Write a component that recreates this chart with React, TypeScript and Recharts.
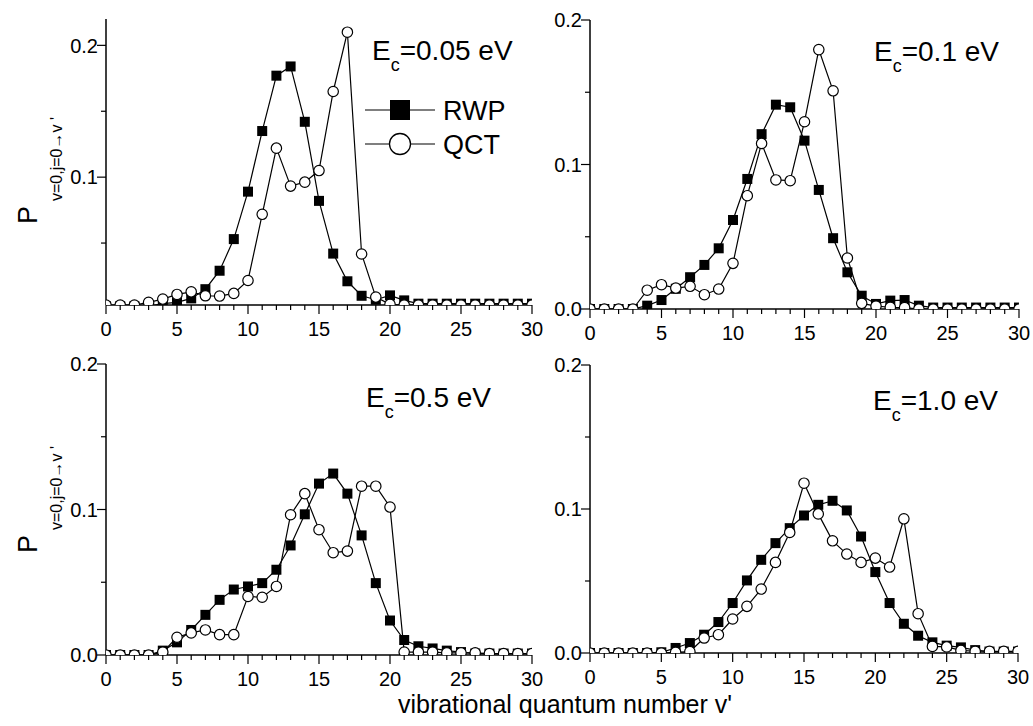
// Vibrational state distributions P(v=0,j=0 -> v') for four collision energies, RWP vs QCT

import { LineChart, Line, XAxis, YAxis, Legend } from "recharts";

const FONT = "'Liberation Sans', Arial, Helvetica, sans-serif";

// vibrational quantum number v'
const vLevels = [0, 1, 2, 3, 4, 5, 6, 7, 8, 9, 10, 11, 12, 13, 14, 15, 16, 17, 18, 19, 20, 21, 22, 23, 24, 25, 26, 27, 28, 29, 30];
const vTicks = [0, 1, 2, 3, 4, 5, 6, 7, 8, 9, 10, 11, 12, 13, 14, 15, 16, 17, 18, 19, 20, 21, 22, 23, 24, 25, 26, 27, 28, 29, 30];
const yTicksFull = [0, 0.05, 0.1, 0.15, 0.2];
const yTicksTopLeft = [0.05, 0.1, 0.15, 0.2];

// Ec = 0.05 eV
const rwp005 = [0.002, 0.002, 0.002, 0.002, 0.004, 0.005, 0.008, 0.015, 0.029, 0.053, 0.089, 0.135, 0.177, 0.184, 0.142, 0.082, 0.042, 0.021, 0.01, 0.007, 0.0103, 0.0065, 0.004, 0.004, 0.004, 0.004, 0.004, 0.004, 0.004, 0.004, 0.004];
const qct005 = [0.003, 0.003, 0.003, 0.005, 0.0075, 0.011, 0.013, 0.01, 0.0098, 0.0118, 0.0216, 0.0718, 0.122, 0.0932, 0.0962, 0.105, 0.165, 0.21, 0.0417, 0.009, 0.0035, 0.003, 0.003, 0.003, 0.003, 0.003, 0.003, 0.003, 0.003, 0.003, 0.003];

// Ec = 0.1 eV
const rwp01 = [0, 0, 0, 0, 0.0023, 0.0062, 0.014, 0.022, 0.0305, 0.042, 0.0616, 0.09, 0.121, 0.1414, 0.1396, 0.1165, 0.0824, 0.049, 0.0254, 0.0092, 0.0035, 0.0058, 0.0062, 0.0023, 0.001, 0.001, 0.001, 0.001, 0.001, 0.001, 0.001];
const qct01 = [0, 0, 0, 0, 0.013, 0.0168, 0.0145, 0.0157, 0.0099, 0.0138, 0.0316, 0.0784, 0.1146, 0.0893, 0.0888, 0.1296, 0.1795, 0.151, 0.0353, 0.0039, 0.002, 0.0012, 0.001, 0, 0, 0, 0, 0, 0, 0, 0];

// Ec = 0.5 eV
const rwp05 = [0, 0, 0, 0, 0.003, 0.0087, 0.0172, 0.0276, 0.0379, 0.045, 0.0471, 0.0494, 0.0586, 0.0753, 0.0967, 0.1178, 0.1247, 0.1109, 0.0822, 0.0494, 0.0237, 0.0103, 0.006, 0.0045, 0.003, 0.002, 0.001, 0.001, 0.001, 0.001, 0.001];
const qct05 = [0, 0, 0, 0, 0.002, 0.0122, 0.0152, 0.0172, 0.014, 0.014, 0.0402, 0.0397, 0.0471, 0.0964, 0.1109, 0.0861, 0.0703, 0.0714, 0.116, 0.116, 0.1017, 0.002, 0.002, 0.002, 0.0015, 0.0015, 0.0015, 0.001, 0.001, 0.001, 0.001];

// Ec = 1.0 eV
const rwp10 = [0, 0, 0, 0, 0, 0.0005, 0.0035, 0.0069, 0.0127, 0.0215, 0.0347, 0.0504, 0.0647, 0.0763, 0.0867, 0.0955, 0.1029, 0.1057, 0.099, 0.0809, 0.0562, 0.0347, 0.0203, 0.012, 0.0074, 0.0051, 0.0039, 0.002, 0.001, 0.001, 0.001];
const qct10 = [0, 0, 0, 0, 0, 0, 0.0005, 0.001, 0.0104, 0.0127, 0.0236, 0.0324, 0.0444, 0.0629, 0.0837, 0.1179, 0.0966, 0.0779, 0.0687, 0.0629, 0.0659, 0.0597, 0.0932, 0.0273, 0.0046, 0.0042, 0.0018, 0.0012, 0.0012, 0.0012, 0.0012];

const Y_AXIS_W = 60;
const X_AXIS_H = 40;
const M_TOP = 15;
const M_RIGHT = 15;

const frameLine = { stroke: "#000", strokeWidth: 1.5 };

const isMajorV = (v: number) => v % 5 === 0;
const isMajorP = (p: number) => Math.abs(p * 10 - Math.round(p * 10)) < 1e-6;

// ticks are drawn by hand so majors and minors get different lengths
const BottomTick = (props: any) => {
  const { x, y, payload } = props;
  const major = isMajorV(payload.value);
  return (
    <g>
      <line x1={x} y1={y} x2={x} y2={y + (major ? 9 : 5)} stroke="#000" strokeWidth={1.2} />
      {major && (
        <text x={x} y={y + 31} textAnchor="middle" fontSize={20} fontFamily={FONT} fill="#000">
          {payload.value}
        </text>
      )}
    </g>
  );
};

const TopTick = (props: any) => {
  const { x, y, payload } = props;
  const major = isMajorV(payload.value);
  return <line x1={x} y1={y} x2={x} y2={y + (major ? 6 : 4)} stroke="#000" strokeWidth={1.2} />;
};

const LeftTick = (props: any) => {
  const { x, y, payload } = props;
  const major = isMajorP(payload.value);
  return (
    <g>
      <line x1={x} y1={y} x2={x - (major ? 9 : 5)} y2={y} stroke="#000" strokeWidth={1.2} />
      {major && (
        <text x={x - 8} y={y} dy="0.36em" textAnchor="end" fontSize={20} fontFamily={FONT} fill="#000">
          {Number(payload.value).toFixed(1)}
        </text>
      )}
    </g>
  );
};

const RightTick = (props: any) => {
  const { x, y, payload } = props;
  const major = isMajorP(payload.value);
  return <line x1={x} y1={y} x2={x - (major ? 6 : 4)} y2={y} stroke="#000" strokeWidth={1.2} />;
};

const SquareDot = (props: any) => {
  const { cx, cy, index } = props;
  if (cx == null || cy == null) return <g key={`s-${index}`} />;
  return <rect key={`s-${index}`} x={cx - 5} y={cy - 5} width={10} height={10} fill="#000" />;
};

const CircleDot = (props: any) => {
  const { cx, cy, index } = props;
  if (cx == null || cy == null) return <g key={`c-${index}`} />;
  return <circle key={`c-${index}`} cx={cx} cy={cy} r={5.2} fill="#fff" stroke="#000" strokeWidth={1.2} />;
};

const legendOrder = ["rwp", "qct"];

const LegendBox = ({ payload }: any) => {
  const items = [...(payload || [])].sort(
    (a: any, b: any) => legendOrder.indexOf(a.dataKey) - legendOrder.indexOf(b.dataKey)
  );
  return (
    <svg width={170} height={70} style={{ overflow: "visible" }}>
      {items.map((item: any, i: number) => {
        const cy = 18 + i * 34;
        const square = item.dataKey === "rwp";
        return (
          <g key={item.value}>
            <line x1={5} y1={cy} x2={75} y2={cy} stroke="#000" strokeWidth={1.2} />
            {square ? (
              <rect x={30} y={cy - 10} width={20} height={20} fill="#000" />
            ) : (
              <circle cx={40} cy={cy} r={10.5} fill="#fff" stroke="#000" strokeWidth={1.3} />
            )}
            <text x={83} y={cy} dy="0.36em" fontSize={27} fontFamily={FONT} fill="#000">
              {item.value}
            </text>
          </g>
        );
      })}
    </svg>
  );
};

interface PanelProps {
  rwp: number[];
  qct: number[];
  yDomain: [number, number];
  yTicks: number[];
  left: number;
  top: number;
  plotW: number;
  plotH: number;
  withLegend?: boolean;
}

const Panel = ({ rwp, qct, yDomain, yTicks, left, top, plotW, plotH, withLegend }: PanelProps) => {
  const data = vLevels.map((v, i) => ({ v, rwp: rwp[i], qct: qct[i] }));
  const chartLeft = left - Y_AXIS_W;
  const chartTop = top - M_TOP;
  return (
    <div style={{ position: "absolute", left: chartLeft, top: chartTop }}>
      <LineChart
        width={plotW + Y_AXIS_W + M_RIGHT}
        height={plotH + M_TOP + X_AXIS_H}
        data={data}
        margin={{ top: M_TOP, right: M_RIGHT, bottom: 0, left: 0 }}
      >
        <XAxis
          xAxisId="b"
          dataKey="v"
          type="number"
          domain={[0, 30]}
          ticks={vTicks}
          interval={0}
          height={X_AXIS_H}
          tickSize={0}
          tickMargin={0}
          tick={BottomTick}
          axisLine={frameLine}
          allowDataOverflow
        />
        <XAxis
          xAxisId="t"
          orientation="top"
          dataKey="v"
          type="number"
          domain={[0, 30]}
          ticks={vTicks}
          interval={0}
          height={0}
          tickSize={0}
          tickMargin={0}
          tick={TopTick}
          axisLine={frameLine}
          allowDataOverflow
        />
        <YAxis
          yAxisId="l"
          type="number"
          domain={yDomain}
          ticks={yTicks}
          interval={0}
          width={Y_AXIS_W}
          tickSize={0}
          tickMargin={0}
          tick={LeftTick}
          axisLine={frameLine}
          allowDataOverflow
        />
        <YAxis
          yAxisId="r"
          orientation="right"
          type="number"
          domain={yDomain}
          ticks={yTicks}
          interval={0}
          width={0}
          tickSize={0}
          tickMargin={0}
          tick={RightTick}
          axisLine={frameLine}
          allowDataOverflow
        />
        {withLegend && (
          <Legend
            layout="vertical"
            align="center"
            verticalAlign="middle"
            content={LegendBox}
            wrapperStyle={{ left: 360 - chartLeft, top: 92 - chartTop, width: 170, height: 70 }}
          />
        )}
        <Line
          xAxisId="b"
          yAxisId="l"
          dataKey="rwp"
          name="RWP"
          stroke="#000"
          strokeWidth={1.2}
          dot={SquareDot}
          activeDot={false}
          isAnimationActive={false}
        />
        <Line
          xAxisId="b"
          yAxisId="l"
          dataKey="qct"
          name="QCT"
          stroke="#000"
          strokeWidth={1.2}
          dot={CircleDot}
          activeDot={false}
          isAnimationActive={false}
        />
      </LineChart>
    </div>
  );
};

const EnergyLabel = ({ x, y, value }: { x: number; y: number; value: string }) => (
  <text x={x} y={y} fontSize={28} fontFamily={FONT} fill="#000">
    E
    <tspan fontSize={18} dy={11}>c</tspan>
    <tspan fontSize={28} dy={-11}>{`=${value} eV`}</tspan>
  </text>
);

const ProbLabel = ({ x, y }: { x: number; y: number }) => (
  <g transform={`translate(${x},${y}) rotate(-90)`}>
    <text x={0} y={0} fontSize={27} fontFamily={FONT} fill="#000">
      P
      <tspan fontSize={16} dx={5} dy={25}>{"v=0,j=0\u2192v '"}</tspan>
    </text>
  </g>
);

export default function App() {
  return (
    <div style={{ position: "absolute", left: 0, top: 0, width: 1033, height: 726, background: "#fff" }}>
      <Panel rwp={rwp005} qct={qct005} yDomain={[0.003, 0.22]} yTicks={yTicksTopLeft} left={106} top={19} plotW={426} plotH={286} withLegend />
      <Panel rwp={rwp01} qct={qct01} yDomain={[0, 0.2]} yTicks={yTicksFull} left={590} top={20} plotW={429} plotH={289} />
      <Panel rwp={rwp05} qct={qct05} yDomain={[0, 0.2]} yTicks={yTicksFull} left={106} top={364} plotW={426} plotH={291} />
      <Panel rwp={rwp10} qct={qct10} yDomain={[0, 0.2]} yTicks={yTicksFull} left={590} top={365} plotW={428} plotH={288} />
      <svg width={1033} height={726} style={{ position: "absolute", left: 0, top: 0, pointerEvents: "none" }}>
        <EnergyLabel x={372} y={60} value="0.05" />
        <EnergyLabel x={874} y={61} value="0.1" />
        <EnergyLabel x={366} y={407} value="0.5" />
        <EnergyLabel x={873} y={410} value="1.0" />
        <ProbLabel x={37} y={224} />
        <ProbLabel x={37} y={553} />
        <text x={565} y={713} textAnchor="middle" fontSize={25} fontFamily={FONT} fill="#000">
          vibrational quantum number v'
        </text>
      </svg>
    </div>
  );
}
